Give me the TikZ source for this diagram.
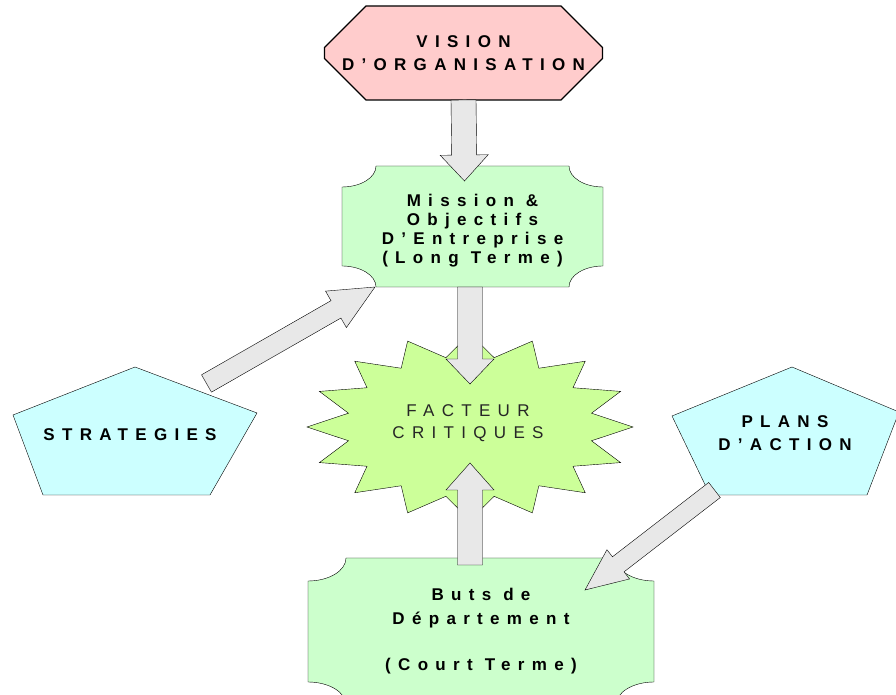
\documentclass[tikz,border=0pt]{standalone}
\usepackage{fontspec}
\setmainfont{Liberation Sans}
\newfontfamily\spacedsans[LetterSpace=43]{Liberation Sans}
\usetikzlibrary{calc,shapes.misc,backgrounds}

\definecolor{visionpink}{HTML}{FFCCCC}
\definecolor{boxgreen}{HTML}{CCFFCC}
\definecolor{burstgreen}{HTML}{CCFF99}
\definecolor{pentacyan}{HTML}{CCFFFF}
\definecolor{arrowgray}{HTML}{E8E8E8}

% block arrow: from, to, half shaft, half head, head length
\newcommand\blockarrow[5]{%
  \coordinate (ba-base) at ($(#2)!#5!(#1)$);
  \draw[arrowbody] ($(#1)!#3!90:(#2)$) -- ($(ba-base)!#3!90:(#2)$) -- ($(ba-base)!#4!90:(#2)$)
    -- (#2) -- ($(ba-base)!#4!-90:(#2)$) -- ($(ba-base)!#3!-90:(#2)$) -- ($(#1)!#3!-90:(#2)$) -- cycle;}
% box with hollow corners round a node: style, node, x radius, y radius
\newcommand\plaque[4]{%
  \draw[#1] ([yshift=-#4]#2.north west) arc[start angle=270,end angle=360,x radius=#3,y radius=#4]
    -- ([xshift=-#3]#2.north east) arc[start angle=180,end angle=270,x radius=#3,y radius=#4]
    -- ([yshift=#4]#2.south east) arc[start angle=90,end angle=180,x radius=#3,y radius=#4]
    -- ([xshift=#3]#2.south west) arc[start angle=0,end angle=90,x radius=#3,y radius=#4]
    -- cycle;}

\begin{document}
\begin{tikzpicture}[x=1pt,y=1pt,line width=1.3pt,
    lbl/.style={font=\spacedsans\bfseries\fontsize{17}{23}\selectfont,align=center,inner sep=0pt,outer sep=0pt},
    arrowbody/.style={draw,fill=arrowgray,line join=miter},
    boxfill/.style={draw,fill=boxgreen},
    pentafill/.style={draw,fill=pentacyan}]
  \useasboundingbox (0,0) rectangle (896,695);

  \node[lbl,chamfered rectangle,chamfered rectangle xsep=40pt,chamfered rectangle ysep=24pt,
    draw,fill=visionpink,minimum width=277pt,minimum height=94pt] (vision) at (463.5,642) {VISION\\D’ORGANISATION};
  \node[lbl,minimum width=261pt,minimum height=121pt,font=\spacedsans\bfseries\fontsize{17}{19}\selectfont] (mission) at (472.5,468.5)
    {\rule{0pt}{20pt}Mission \&\\Objectifs\\D’Entreprise\\(Long Terme)};
  \node[lbl,minimum width=346pt,minimum height=147pt,font=\spacedsans\bfseries\fontsize{17}{23.5}\selectfont] (buts) at (481,63.5)
    {Buts de\\Département\\[23pt](Court Terme)};
  \coordinate (burst) at (470,268);
  \node[lbl,font=\spacedsans\fontsize{17}{22.5}\selectfont,text=black!85] (facteur) at (468,272) {FACTEUR\\CRITIQUES};
  \node[lbl] (strat) at (130,260) {STRATEGIES};
  \node[lbl] (plans) at (785,262) {PLANS\\D’ACTION};

  \begin{pgfonlayer}{background}
    \plaque{boxfill}{mission}{34pt}{21pt}
    \plaque{boxfill}{buts}{38pt}{23pt}
    \draw[fill=burstgreen] plot[samples at={0,...,31},variable=\k]
      ({470+163*ifthenelse(mod(\k,2)==0,1,0.76)*cos(90+11.25*\k)},{268+93*ifthenelse(mod(\k,2)==0,1,0.76)*sin(90+11.25*\k)}) -- cycle;
    \draw[pentafill] (135,328) -- (257,282) -- (210,200) -- (43,200) -- (13,280) -- cycle;
    \draw[pentafill] (792,328) -- (899,283) -- (867,200) -- (710,200) -- (672,279) -- cycle;
  \end{pgfonlayer}

  \coordinate (strat-out) at (206.5,311.5);
  \coordinate (plans-out) at (714.5,205);
  \blockarrow{vision.south}{$(vision.south |- mission.north)+(1,-15)$}{12.5pt}{24pt}{26pt}
  \blockarrow{burst |- mission.south}{$(burst)+(0,43)$}{12.5pt}{24pt}{25pt}
  \blockarrow{$(burst |- buts.north)+(0,-7)$}{$(burst)+(0,-36)$}{12.5pt}{24pt}{27pt}
  \blockarrow{strat-out}{$(mission.south west)+(33,0)$}{10pt}{21pt}{45pt}
  \blockarrow{plans-out}{$(buts.north west)+(277,-32)$}{9.5pt}{18.5pt}{42pt}
\end{tikzpicture}
\end{document}
